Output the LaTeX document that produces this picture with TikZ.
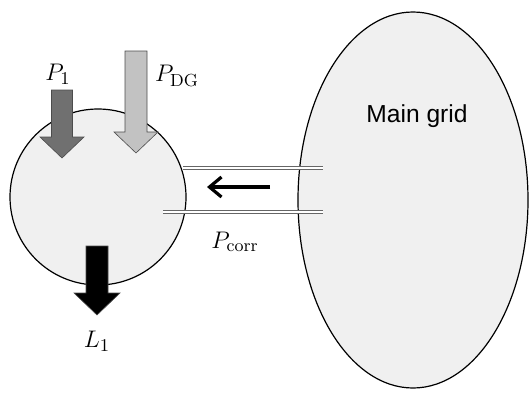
\documentclass[tikz,border=0pt]{standalone}
\usepackage{fontspec}
\setsansfont{Liberation Sans}
\usetikzlibrary{arrows.meta,shapes.geometric}

\definecolor{areafill}{HTML}{F0F0F0}
\definecolor{darkarrow}{HTML}{707070}
\definecolor{lightarrow}{HTML}{C2C2C2}

\tikzset{
  bus/.style={circle,draw,line width=0.6pt,fill=areafill,inner sep=0pt},
  tieline/.style={draw=black!60,double=white,line width=0.55pt,double distance=0.75pt},
  flowlabel/.style={font=\fontsize{12.5}{15}\selectfont},
}

% block arrow pointing down: {x}{top}{head start}{tip}{half shaft}{half head}{colour}
\newcommand{\downblock}[7]{%
  \filldraw[fill=#7,draw=black!70,line width=0.3pt]
    (#1-#5,#2) -- (#1+#5,#2) -- (#1+#5,#3) -- (#1+#6,#3) -- (#1,#4)
    -- (#1-#6,#3) -- (#1-#5,#3) -- cycle;}

\begin{document}
\begin{tikzpicture}[x=0.5pt,y=-0.5pt]
    \useasboundingbox (0,0) rectangle (529,392);
    %microgrid and main grid
    \node[bus,minimum size=88pt] (micro) at (98,197) {};
    \node[ellipse,draw,line width=0.6pt,fill=areafill,inner sep=0pt,
          minimum width=115pt,minimum height=188pt] (main) at (413,200) {};
    \node[font=\sffamily\fontsize{12.3}{14}\selectfont] (maintxt) at (417,116) {Main grid};
	%tie lines
    \coordinate (t1a) at (183,168);
    \coordinate (t1b) at (323,168);
    \coordinate (t2a) at (163,212);
    \coordinate (t2b) at (323,212);
    \draw[tieline] (t1a) -- (t1b);
    \draw[tieline] (t2a) -- (t2b);
    \coordinate (fa) at (270,187);
    \coordinate (fb) at (207,187);
    \draw[line width=1.6pt,-{Straight Barb[length=6pt,width=10pt,line width=1.6pt]}] (fa) -- (fb);
    \node[flowlabel] (pcorr) at (235,242) {$P_{\mathrm{corr}}$};
	%power flows
    \downblock{62}{90}{137}{158}{10.5}{22}{darkarrow}
    \downblock{136}{51}{132}{153}{11}{22}{lightarrow}
    \downblock{97}{246}{293}{315}{11}{23}{black}
    \node[flowlabel] (p1) at (58,74) {$P_1$};
    \node[flowlabel] (pdg) at (177,76) {$P_{\mathrm{DG}}$};
    \node[flowlabel] (l1) at (97,341) {$L_1$};
\end{tikzpicture}
\end{document}
